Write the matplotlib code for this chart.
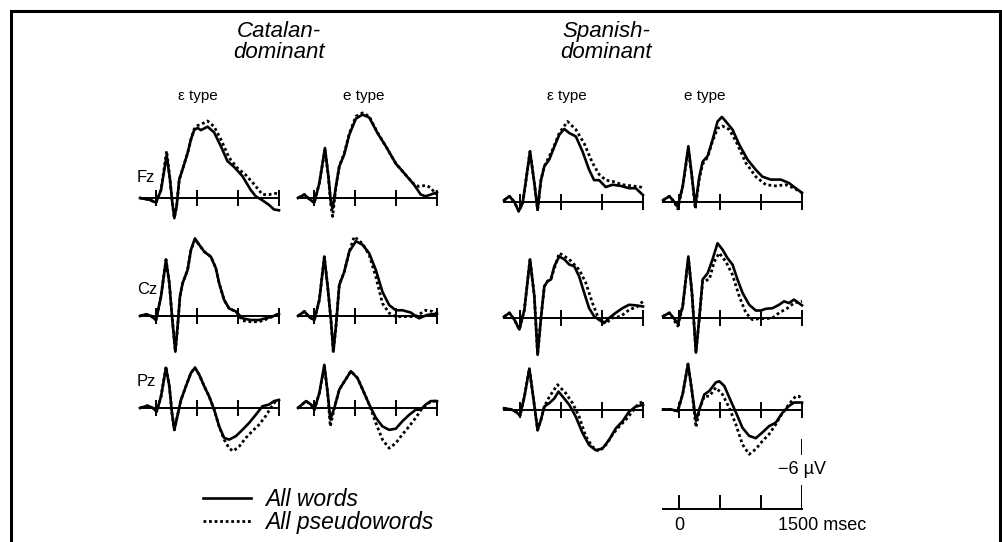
import matplotlib
matplotlib.use("Agg")
import matplotlib.pyplot as plt
from matplotlib.lines import Line2D
from matplotlib.patches import Rectangle
from matplotlib.transforms import ScaledTranslation

plt.rcParams['font.family'] = ['Liberation Sans', 'DejaVu Sans']

# ---------------- data (time in ms, amplitude in microvolts; negative plotted up) -------------
groups = ["Catalan-\ndominant", "Spanish-\ndominant"]
conditions = ["\u03b5 type", "e type", "\u03b5 type", "e type"]
electrodes = ["Fz", "Cz", "Pz"]
legend_labels = ["All words", "All pseudowords"]
time_ticks = [0, 500, 1000, 1500]
scale_uv = -6
scale_ms_label = ["0", "1500 msec"]

# Fz
fz_cat_eps_w_t = [-200,-85,-4,57,126,167,191,220,248,280,321,382,423,463,504,545,626,707,789,870,951,1053,1154,1215,1297,1378,1439,1500]
fz_cat_eps_w_v = [0,0.15,0.4,-0.7,-3.7,-1.6,0.15,1.75,0.7,-1.6,-2.5,-3.9,-5.1,-5.9,-6.1,-5.9,-6.2,-5.7,-4.5,-3.2,-2.7,-1.9,-0.7,-0.15,0.2,0.6,1.0,1.07]
fz_cat_eps_p_t = [-200,-85,-4,57,126,167,191,220,248,280,321,382,423,463,504,545,626,707,789,890,992,1094,1195,1297,1378,1459,1500]
fz_cat_eps_p_v = [0,0.15,0.4,-0.7,-4.1,-1.6,0.15,1.75,0.7,-1.6,-2.5,-3.9,-5.1,-6.0,-6.3,-6.4,-6.7,-6.2,-5.1,-3.5,-2.6,-2.0,-1.2,-0.3,-0.3,-0.4,-0.3]

fz_cat_e_w_t = [-200,-122,-61,0,61,130,171,203,224,264,305,366,427,508,589,671,772,874,996,1118,1220,1301,1362,1423,1500]
fz_cat_e_w_v = [0,-0.3,0.1,0.4,-1.3,-4.35,-1.9,0.45,0.9,-1.0,-2.75,-3.8,-5.5,-6.9,-7.25,-7.0,-5.65,-4.5,-3.0,-2.0,-1.15,-0.3,-0.15,-0.3,-0.5]
fz_cat_e_p_t = [-200,-122,-61,0,61,130,171,203,224,264,305,366,427,508,589,671,772,874,996,1118,1220,1280,1362,1423,1490]
fz_cat_e_p_v = [0,-0.3,0.1,0.4,-1.3,-4.2,-1.9,0.7,1.6,-1.0,-2.75,-3.9,-5.6,-7.1,-7.4,-7.1,-5.7,-4.5,-3.0,-2.0,-1.2,-1.0,-1.1,-0.9,-0.3]

fz_sp_eps_w_t = [-200,-134,-73,-20,28,69,118,171,211,252,293,354,415,476,537,598,679,760,841,902,963,1045,1126,1228,1329,1411,1500]
fz_sp_eps_w_v = [-0.15,-0.5,0,0.8,0.1,-1.9,-4.4,-1.65,0.67,-1.9,-3.1,-3.7,-4.8,-5.85,-6.35,-6.0,-5.7,-4.4,-2.8,-1.9,-1.9,-1.3,-1.5,-1.4,-1.2,-1.2,-0.6]
fz_sp_eps_p_t = [-200,-134,-73,-20,28,69,118,171,211,252,293,394,476,577,679,780,882,963,1045,1126,1248,1370,1472,1500]
fz_sp_eps_p_v = [-0.15,-0.5,0,0.8,0.1,-1.9,-4.4,-1.65,0.67,-1.9,-3.1,-4.55,-6.0,-7.0,-6.3,-5.1,-3.4,-2.4,-1.9,-1.8,-1.5,-1.4,-1.3,-1.2]

fz_sp_e_w_t = [-200,-122,-61,-20,41,110,154,195,244,285,346,406,467,520,569,650,732,833,935,1016,1118,1240,1341,1423,1500]
fz_sp_e_w_v = [-0.15,-0.5,0,0.4,-1.35,-4.85,-2.2,0.38,-2.2,-3.5,-4.0,-5.4,-7.0,-7.4,-7.0,-6.3,-5.0,-3.7,-2.8,-2.2,-1.95,-1.95,-1.65,-1.2,-0.8]
fz_sp_e_p_t = [-200,-122,-61,-20,41,110,154,195,244,285,346,406,467,528,610,691,813,935,1057,1179,1301,1402,1500]
fz_sp_e_p_v = [-0.15,-0.5,0,0.6,-1.35,-4.6,-2.2,0.6,-2.0,-3.3,-3.9,-5.3,-6.4,-6.6,-6.3,-5.3,-3.4,-2.2,-1.5,-1.4,-1.5,-1.2,-0.8]

# Cz
cz_cat_eps_w_t = [-200,-126,-65,-4,57,118,159,191,232,260,289,321,382,423,472,524,585,667,728,768,829,890,972,1053,1154,1256,1337,1419,1500]
cz_cat_eps_w_v = [0,-0.15,0,0.35,-1.7,-4.9,-2.85,0,3.1,0.9,-1.7,-2.85,-4.0,-5.75,-6.75,-6.2,-5.6,-5.15,-4.15,-2.85,-1.4,-0.65,-0.4,0.2,0.35,0.35,0.2,0.05,-0.2]
cz_cat_eps_p_t = [-200,-126,-65,-4,57,118,159,191,232,260,289,321,382,423,472,524,585,667,728,768,829,890,972,1053,1154,1256,1337,1419,1500]
cz_cat_eps_p_v = [0,-0.15,0,0.35,-1.7,-4.9,-2.85,0,3.1,0.9,-1.7,-2.85,-4.0,-5.75,-6.6,-6.2,-5.6,-5.15,-4.15,-2.85,-1.4,-0.65,-0.4,0.4,0.5,0.5,0.3,0.05,-0.2]

cz_cat_e_w_t = [-200,-122,-61,0,61,122,163,203,232,264,305,366,427,508,589,671,752,833,915,996,1077,1179,1280,1382,1500]
cz_cat_e_w_v = [0,-0.4,0.1,0.35,-1.4,-5.15,-2.55,0.35,3.1,0.9,-2.7,-3.85,-5.6,-6.5,-6.2,-5.45,-4.0,-2.1,-0.95,-0.5,-0.5,-0.3,0.2,-0.1,-0.2]
cz_cat_e_p_t = [-200,-122,-61,0,61,122,163,203,232,264,305,366,427,488,589,671,752,833,915,996,1118,1240,1362,1443,1500]
cz_cat_e_p_v = [0,-0.4,0.1,0.35,-1.4,-5.15,-2.55,0.35,3.1,0.9,-2.7,-3.85,-5.6,-6.9,-6.3,-5.3,-3.4,-1.1,-0.25,0.05,0.05,0.05,-0.5,-0.4,-0.2]

cz_sp_eps_w_t = [-200,-134,-73,-12,49,118,171,211,252,293,333,374,415,476,537,598,659,720,780,841,902,963,1024,1085,1167,1248,1329,1411,1500]
cz_sp_eps_w_v = [-0.1,-0.45,0.15,1.0,-0.7,-5.1,-1.9,3.2,0,-2.75,-3.2,-3.35,-4.5,-5.35,-5.1,-4.65,-4.5,-3.6,-2.2,-0.85,-0.15,0.15,0.45,0,-0.45,-0.85,-1.15,-1.1,-1.0]
cz_sp_eps_p_t = [-200,-134,-73,-12,49,118,171,211,252,293,333,374,476,598,720,801,882,963,1045,1126,1228,1329,1431,1500]
cz_sp_eps_p_v = [-0.1,-0.45,0.15,1.0,-0.7,-5.1,-1.9,3.2,0,-2.75,-3.2,-3.4,-5.65,-5.1,-4.2,-3.05,-1.3,0.15,0.45,0,-0.15,-0.7,-1.0,-1.45]

cz_sp_e_w_t = [-200,-122,-20,41,110,154,203,244,285,346,406,467,528,589,650,711,772,854,935,996,1057,1138,1220,1280,1341,1402,1500]
cz_sp_e_w_v = [-0.15,-0.45,0.45,-1.0,-5.35,-2.2,3.0,0,-3.35,-3.9,-5.1,-6.5,-5.95,-5.2,-4.65,-3.35,-2.2,-1.15,-0.65,-0.65,-0.8,-0.85,-1.15,-1.45,-1.3,-1.6,-1.1]
cz_sp_e_p_t = [-200,-122,-20,41,110,154,203,244,285,366,427,488,569,650,732,813,894,976,1057,1138,1220,1321,1402,1500]
cz_sp_e_p_v = [-0.15,-0.45,0.7,-1.0,-5.2,-2.2,3.0,0,-3.2,-3.35,-4.9,-5.65,-4.9,-3.75,-1.9,-0.45,0.15,0.05,0.05,0,-0.45,-0.85,-1.3,-1.45]

# Pz
pz_cat_eps_w_t = [-200,-106,-45,4,57,118,159,191,220,260,301,362,423,472,524,585,646,707,768,829,890,972,1053,1134,1215,1297,1378,1439,1500]
pz_cat_eps_w_v = [0,-0.2,0,0.3,-1.0,-3.5,-1.9,0.45,1.9,0.6,-0.7,-1.9,-3.05,-3.5,-2.9,-1.9,-1.0,0.15,1.6,2.6,2.75,2.45,1.9,1.3,0.6,-0.15,-0.3,-0.6,-0.7]
pz_cat_eps_p_t = [-200,-106,-45,4,57,118,159,191,220,260,301,362,423,472,524,585,646,707,768,829,890,939,1012,1094,1175,1256,1337,1398,1459,1500]
pz_cat_eps_p_v = [0,-0.2,0,0.3,-1.0,-3.6,-1.9,0.45,1.9,0.6,-0.7,-1.9,-3.05,-3.5,-2.9,-1.9,-1.0,0.15,1.6,2.75,3.5,3.75,3.35,2.6,2.0,1.45,0.7,0,-0.6,-0.7]

pz_cat_e_w_t = [-200,-102,-41,0,61,122,163,195,244,305,366,447,528,610,671,752,833,915,996,1077,1159,1240,1301,1362,1423,1500]
pz_cat_e_w_v = [0,-0.6,-0.3,0.15,-1.3,-3.75,-1.3,1.0,0,-1.6,-2.3,-3.2,-2.6,-1.3,-0.3,0.85,1.6,1.9,1.8,1.15,0.6,0.15,0.15,-0.3,-0.6,-0.6]
pz_cat_e_p_t = [-200,-102,-41,0,61,122,163,195,244,305,366,447,528,610,671,752,833,915,996,1077,1159,1240,1321,1402,1463,1500]
pz_cat_e_p_v = [0,-0.6,-0.3,0.15,-1.3,-3.6,-1.3,1.6,0,-1.6,-2.3,-3.2,-2.6,-1.3,-0.3,1.3,2.75,3.5,3.05,2.3,1.6,0.85,0,-0.45,-0.6,-0.6]

pz_sp_eps_w_t = [-200,-114,-53,-4,49,110,163,211,252,293,354,415,467,537,598,679,760,841,923,1004,1085,1167,1248,1329,1411,1500]
pz_sp_eps_w_v = [-0.15,-0.05,0.15,0.5,-1.15,-3.6,-0.85,1.75,0.85,-0.3,-0.6,-1.0,-1.6,-1.0,-0.45,0.6,2.0,3.05,3.5,3.35,2.6,1.6,1.0,0.15,-0.3,-0.45]
pz_sp_eps_p_t = [-200,-114,-53,-4,49,110,163,211,252,293,354,455,557,638,720,801,882,963,1045,1126,1207,1289,1370,1451,1500]
pz_sp_eps_p_v = [-0.15,-0.05,0.15,0.5,-1.15,-3.6,-0.85,1.75,0.85,-0.3,-1.15,-2.2,-1.45,-0.6,0.6,2.3,3.2,3.6,3.05,2.15,1.45,0.85,0.15,-0.6,-0.7]

pz_sp_e_w_t = [-200,-102,-20,41,106,154,203,252,305,366,447,488,549,610,691,772,854,935,1016,1098,1179,1260,1341,1402,1500]
pz_sp_e_w_v = [-0.05,-0.05,0.1,-1.4,-4.0,-1.65,0.95,-0.2,-1.35,-1.65,-2.4,-2.5,-2.1,-1.1,0.2,1.55,2.25,2.45,1.95,1.4,1.1,0.25,-0.35,-0.65,-0.65]
pz_sp_e_p_t = [-200,-102,-20,41,106,154,203,252,305,366,447,528,610,691,772,854,935,1016,1098,1179,1260,1341,1423,1463,1500]
pz_sp_e_p_v = [-0.05,-0.05,0.1,-1.4,-4.0,-1.65,1.5,-0.2,-1.2,-1.2,-1.95,-1.35,-0.2,1.25,3.0,3.85,3.4,2.7,2.1,1.25,0.25,-0.5,-1.2,-1.2,-0.9]

panels = [
    [(fz_cat_eps_w_t, fz_cat_eps_w_v, fz_cat_eps_p_t, fz_cat_eps_p_v),
     (fz_cat_e_w_t, fz_cat_e_w_v, fz_cat_e_p_t, fz_cat_e_p_v),
     (fz_sp_eps_w_t, fz_sp_eps_w_v, fz_sp_eps_p_t, fz_sp_eps_p_v),
     (fz_sp_e_w_t, fz_sp_e_w_v, fz_sp_e_p_t, fz_sp_e_p_v)],
    [(cz_cat_eps_w_t, cz_cat_eps_w_v, cz_cat_eps_p_t, cz_cat_eps_p_v),
     (cz_cat_e_w_t, cz_cat_e_w_v, cz_cat_e_p_t, cz_cat_e_p_v),
     (cz_sp_eps_w_t, cz_sp_eps_w_v, cz_sp_eps_p_t, cz_sp_eps_p_v),
     (cz_sp_e_w_t, cz_sp_e_w_v, cz_sp_e_p_t, cz_sp_e_p_v)],
    [(pz_cat_eps_w_t, pz_cat_eps_w_v, pz_cat_eps_p_t, pz_cat_eps_p_v),
     (pz_cat_e_w_t, pz_cat_e_w_v, pz_cat_e_p_t, pz_cat_e_p_v),
     (pz_sp_eps_w_t, pz_sp_eps_w_v, pz_sp_eps_p_t, pz_sp_eps_p_v),
     (pz_sp_e_w_t, pz_sp_e_w_v, pz_sp_e_p_t, pz_sp_e_p_v)],
]

# ---------------- layout (pixels) ----------------
W, H = 1003, 542
PX_PER_UV = 11.5
T0, T1 = -200, 1500
YTOP, YBOT = -8.0, 4.5
col_left = [140, 298, 504, 663]
col_width = 139
row_base = [[198, 198, 202, 202], [316, 316, 318, 318], [408, 408, 410, 410]]

SOLID = dict(color='black', lw=1.9, solid_joinstyle='round', clip_on=False)
DOTTED = dict(color='black', lw=2.0, linestyle=(0, (1, 1)), dash_capstyle='butt', clip_on=False)

fig = plt.figure(figsize=(W / 100, H / 100), dpi=100)


def make_axes(left_px, base_px, ytop=YTOP, ybot=YBOT):
    top_px = base_px + ytop * PX_PER_UV
    h_px = (ybot - ytop) * PX_PER_UV
    ax = fig.add_axes([left_px / W, 1 - (top_px + h_px) / H, col_width / W, h_px / H])
    ax.set_xlim(T0, T1)
    ax.set_ylim(ybot, ytop)
    ax.patch.set_visible(False)
    for s in ['top', 'left', 'right']:
        ax.spines[s].set_visible(False)
    ax.set_yticks([])
    return ax


for r in range(3):
    for c in range(4):
        ax = make_axes(col_left[c], row_base[r][c])
        wt, wv, pt, pv = panels[r][c]
        ax.plot(pt, pv, **DOTTED)
        ax.plot(wt, wv, **SOLID)
        sp = ax.spines['bottom']
        sp.set_position(('data', 0))
        sp.set_bounds(T0, T1)
        sp.set_linewidth(1.4)
        ax.set_xticks(time_ticks)
        ax.tick_params(axis='x', direction='inout', length=11, width=1.4,
                       labelbottom=False, color='black')

# electrode labels
for r, name in enumerate(electrodes):
    ypos = [178, 289, 381][r]
    fig.text(137 / W, 1 - ypos / H, name, fontsize=12, ha='left', va='center')

# group titles
for x, g in zip([279, 606], groups):
    fig.text(x / W, 1 - 42 / H, g, fontsize=16, style='italic',
             ha='center', va='center', multialignment='center', linespacing=0.98)

# condition labels
for x, lab in zip([198, 364, 567, 705], conditions):
    fig.text(x / W, 1 - 96 / H, lab, fontsize=11, ha='center', va='center')

# scale bar axes (aligned with last column)
sb = make_axes(663, 509, ytop=-7, ybot=3)
sp = sb.spines['bottom']
sp.set_position(('data', 0))
sp.set_bounds(T0, T1)
sp.set_linewidth(1.4)
sb.set_xticks(time_ticks[:3])
sb.tick_params(axis='x', direction='in', length=10, width=1.4, labelbottom=False)
sb.plot([T1, T1], [0, -2.1], color='black', lw=1.4, solid_capstyle='butt')
sb.plot([T1, T1, T1 + 50], [-4.7, scale_uv, scale_uv], color='black', lw=1.4,
        solid_capstyle='butt', solid_joinstyle='miter')
sb.text(T1, -3.4, "\u22126 \u00b5V", fontsize=13, ha='center', va='center')
sb.text(0, 0, scale_ms_label[0], fontsize=13, ha='center', va='top',
        transform=sb.transData + ScaledTranslation(0, -8 / 100, fig.dpi_scale_trans))
sb.text(T1, 0, scale_ms_label[1], fontsize=13, ha='left', va='top',
        transform=sb.transData + ScaledTranslation(-24 / 100, -8 / 100, fig.dpi_scale_trans))

# legend
handles = [Line2D([], [], **SOLID), Line2D([], [], **DOTTED)]
fig.legend(handles, legend_labels, loc='upper left', bbox_to_anchor=(203 / W, 1 - 488 / H),
           frameon=False, prop={'style': 'italic', 'size': 16.5},
           handlelength=2.1, handletextpad=0.6, labelspacing=0.0, borderpad=0, borderaxespad=0)

# outer frame
fig.patches.append(Rectangle((10.5 / W, -0.1), (1000 - 10.5) / W, 1 - 11 / H + 0.1,
                             transform=fig.transFigure, fill=False, edgecolor='black', lw=2.2))

fig.savefig("out.png", dpi=100)
